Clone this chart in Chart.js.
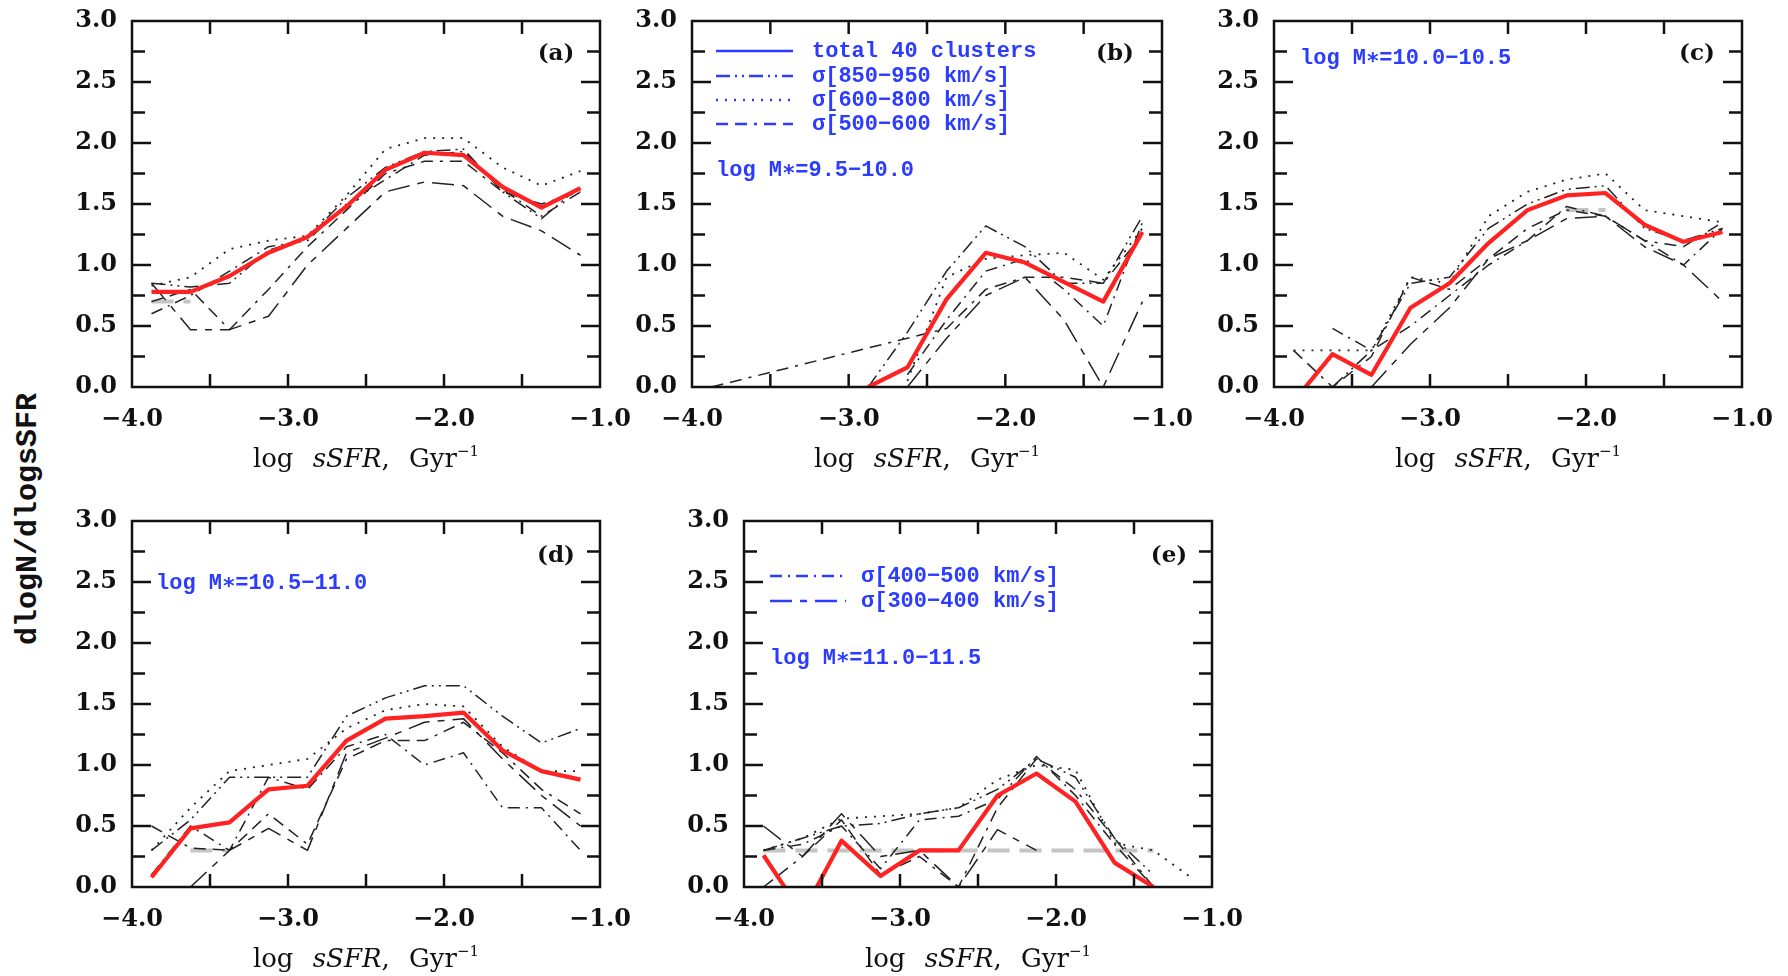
<!DOCTYPE html>
<html><head><meta charset="utf-8">
<script src="https://cdn.jsdelivr.net/npm/chart.js@4.4.1/dist/chart.umd.min.js"></script>
<style>
html,body{margin:0;padding:0;background:#fff;width:1788px;height:976px;overflow:hidden;position:relative;}
canvas{position:absolute;}
.t{position:absolute;white-space:pre;}
.xt{font-family:'DejaVu Serif',serif;font-size:26px;color:#111;transform:translate(-50%,-50%);word-spacing:11px;}
.xt sup{font-size:15px;vertical-align:11px;line-height:0;}
.blue{font-family:'Liberation Mono',monospace;font-weight:bold;font-size:22px;color:#2b3cff;transform:translateY(-50%);}
.pl{font-family:'DejaVu Serif',serif;font-weight:bold;font-size:23px;color:#111;transform:translate(-50%,-50%);}
.yt{font-family:'Liberation Mono',monospace;font-weight:bold;font-size:30px;color:#111;transform:translate(-50%,-50%) rotate(-90deg);}
</style></head><body>
<script>
// ---------- data ----------
const xBins = [-3.875,-3.625,-3.375,-3.125,-2.875,-2.625,-2.375,-2.125,-1.875,-1.625,-1.375,-1.125];
const xTickValues = [-4,-3,-2,-1];
const yTickValues = [0,0.5,1,1.5,2,2.5,3];
const xMinorTicks = [-3.5,-3,-2.5,-2,-1.5];
const yMinorTicks = [0.25,0.5,0.75,1,1.25,1.5,1.75,2,2.25,2.5,2.75];

// (a)
const totalA = [0.78,0.78,0.91,1.10,1.23,1.48,1.78,1.92,1.90,1.64,1.47,1.63];
const s850A  = [0.85,0.82,0.85,1.12,1.22,1.55,1.80,1.93,1.95,1.60,1.38,1.65];
const s600A  = [0.83,0.90,1.13,1.20,1.24,1.57,1.95,2.04,2.04,1.80,1.65,1.77];
const s500A  = [0.70,0.80,0.47,0.80,1.15,1.45,1.75,1.85,1.85,1.60,1.50,1.60];
const s400A  = [0.60,0.75,0.95,1.15,1.20,1.50,1.70,1.90,1.93,1.62,1.40,1.60];
const s300A  = [0.85,0.47,0.47,0.58,1.00,1.30,1.60,1.68,1.65,1.40,1.28,1.08];
const greyA  = [0.70,0.70,null,null,null,null,null,null,null,null,null,null];
// (b)
const totalB = [null,null,null,null,0.00,0.16,0.72,1.10,1.02,0.86,0.70,1.27];
const s850B  = [null,null,null,null,0.00,0.45,0.95,1.32,1.15,0.85,0.85,1.40];
const s600B  = [null,null,null,null,null,0.05,0.90,1.05,1.08,1.10,0.88,1.30];
const s500B  = [0.00,null,null,null,0.32,0.40,0.48,0.80,0.90,0.90,0.85,1.25];
const s400B  = [null,null,null,null,null,0.10,0.55,0.95,1.05,0.80,0.50,1.35];
const s300B  = [null,null,null,null,null,0.00,0.40,0.75,0.90,0.55,0.00,0.70];
// (c)
const totalC = [-0.12,0.27,0.10,0.65,0.85,1.18,1.45,1.57,1.59,1.33,1.19,1.27];
const s850C  = [null,0.00,0.30,0.85,0.90,1.30,1.50,1.62,1.65,1.30,1.20,1.30];
const s600C  = [0.30,0.30,0.30,0.90,0.85,1.40,1.60,1.70,1.75,1.45,1.40,1.35];
const s500C  = [0.30,0.00,0.25,0.90,0.80,1.05,1.30,1.45,1.40,1.20,1.15,1.35];
const s400C  = [null,0.48,0.30,0.50,0.75,1.00,1.20,1.48,1.40,1.20,1.00,1.30];
const s300C  = [null,null,0.00,0.35,0.65,1.05,1.20,1.38,1.40,1.15,1.00,0.70];
const greyC  = [null,null,null,null,null,null,null,1.45,1.45,null,null,null];
// (d)
const totalD = [0.08,0.48,0.53,0.80,0.83,1.20,1.38,1.40,1.43,1.12,0.95,0.88];
const s850D  = [0.30,0.55,0.90,0.90,0.90,1.40,1.55,1.65,1.65,1.40,1.18,1.30];
const s600D  = [0.30,0.65,0.95,1.00,1.05,1.30,1.45,1.50,1.48,1.15,0.95,0.95];
const s500D  = [0.50,0.32,0.30,0.60,0.35,1.05,1.20,1.20,1.35,1.10,0.80,0.60];
const s400D  = [0.10,0.50,0.30,0.90,0.80,1.15,1.25,1.00,1.10,0.65,0.65,0.30];
const s300D  = [null,0.00,0.30,0.48,0.30,1.10,1.22,1.35,1.38,1.05,0.75,0.50];
const greyD  = [null,0.30,0.30,null,null,null,null,null,null,null,null,null];
// (e)
const totalE = [0.26,-0.22,0.38,0.09,0.30,0.30,0.75,0.93,0.70,0.20,0.00,null];
const s850E  = [0.30,0.40,0.50,0.52,0.60,0.65,0.80,1.05,0.90,0.40,0.10,null];
const s600E  = [0.30,0.40,0.56,0.58,0.60,0.65,0.88,1.00,0.96,0.36,0.30,0.07];
const s500E  = [0.00,0.25,0.55,0.10,0.25,0.00,0.65,1.05,0.80,0.40,0.00,null];
const s400E  = [0.30,0.35,0.50,0.15,0.55,0.58,0.72,1.07,0.75,0.35,0.00,null];
const s300E  = [0.50,0.25,0.60,0.25,0.30,0.00,0.47,0.30,null,null,null,null];
const greyE  = [0.30,0.30,0.30,0.30,0.30,0.30,0.30,0.30,0.30,0.30,0.30,null];

// ---------- styles / layout ----------
const BLUE = '#2b3cff';
const styles = {
  total:{color:'#ff2222', width:4.2, dash:[]},
  s850: {color:'#222', width:1.5, dash:[14,5,2,5,2,5]},
  s600: {color:'#222', width:1.8, dash:[2,7]},
  s500: {color:'#222', width:1.5, dash:[12,7,12,7,3,7]},
  s400: {color:'#222', width:1.5, dash:[12,6,2,6]},
  s300: {color:'#222', width:1.5, dash:[22,8,7,8]},
  grey: {color:'#c4c4c4', width:4, dash:[22,10]}
};
const YAX=80, PADT=45, PADR=70, XAX=70;

const framePlugin = {
  id:'frame',
  afterDatasetsDraw(chart, args, opts){
    const {ctx, chartArea:a, scales:{x,y}} = chart;
    const line=(x1,y1,x2,y2)=>{ctx.beginPath();ctx.moveTo(x1,y1);ctx.lineTo(x2,y2);ctx.stroke();};
    ctx.save();
    ctx.strokeStyle='#111'; ctx.setLineDash([]); ctx.lineWidth=2.5;
    ctx.strokeRect(a.left,a.top,a.right-a.left,a.bottom-a.top);
    xMinorTicks.forEach(v=>{const px=x.getPixelForValue(v); line(px,a.bottom,px,a.bottom-13); line(px,a.top,px,a.top+13);});
    yMinorTicks.forEach(v=>{const py=y.getPixelForValue(v); const L=(Math.abs(v*2-Math.round(v*2))<1e-6)?19:13;
      line(a.left,py,a.left+L,py); line(a.right,py,a.right-L,py);});
    (opts.legend||[]).forEach(it=>{
      const st=styles[it.key];
      ctx.strokeStyle=BLUE; ctx.lineWidth=2.5; ctx.setLineDash(st.dash);
      line(it.x0-opts.ox, it.y-opts.oy, it.x1-opts.ox, it.y-opts.oy);
    });
    ctx.restore();
  }
};

function addText(cls, html, x, y){
  const d=document.createElement('div'); d.className='t '+cls; d.innerHTML=html;
  d.style.left=x+'px'; d.style.top=y+'px'; document.body.appendChild(d);
}

function makePanel(left, top, w, h, series, legend){
  const c=document.createElement('canvas');
  const W=YAX+w+PADR, H=PADT+h+XAX;
  c.width=W; c.height=H; c.style.left=(left-YAX)+'px'; c.style.top=(top-PADT)+'px';
  c.style.width=W+'px'; c.style.height=H+'px';
  document.body.appendChild(c);
  const datasets = series.map(s=>{
    const st=styles[s.key];
    return {data:xBins.map((xv,i)=>({x:xv,y:s.values[i]})), borderColor:st.color, borderWidth:st.width,
      borderDash:st.dash, pointRadius:0, tension:0, fill:false, spanGaps:true,
      borderCapStyle:'butt', borderJoinStyle:'round'};
  });
  const tickFont={family:'DejaVu Serif', size:24, weight:'bold'};
  new Chart(c,{type:'line',data:{datasets},
    options:{responsive:false, animation:false, devicePixelRatio:1,
      layout:{padding:{left:0,top:PADT,right:PADR,bottom:0}},
      plugins:{legend:{display:false},tooltip:{enabled:false},
        frame:{legend:legend||[], ox:left-YAX, oy:top-PADT}},
      scales:{
        x:{type:'linear',min:-4,max:-1,
          grid:{display:false,drawTicks:false}, border:{display:false},
          afterBuildTicks:s=>{s.ticks=xTickValues.map(v=>({value:v}));},
          afterFit:s=>{s.height=XAX;},
          ticks:{padding:18,color:'#111',font:tickFont,maxRotation:0,autoSkip:false,
            callback:v=>(v<0?'\u2212':'')+Math.abs(v).toFixed(1)}},
        y:{type:'linear',min:0,max:3,
          grid:{display:false,drawTicks:false}, border:{display:false},
          afterBuildTicks:s=>{s.ticks=yTickValues.map(v=>({value:v}));},
          afterFit:s=>{s.width=YAX;},
          ticks:{padding:15,color:'#111',font:tickFont,autoSkip:false,callback:v=>v.toFixed(1)}}
      }},
    plugins:[framePlugin]});
  addText('xt','log <i>sSFR</i>, Gyr<sup>\u22121</sup>', left+w/2, top+h+71);
}

const PH=366;
makePanel(132,21,468,PH,[
  {key:'total',values:totalA},{key:'s850',values:s850A},{key:'s600',values:s600A},
  {key:'s500',values:s500A},{key:'s400',values:s400A},{key:'s300',values:s300A},{key:'grey',values:greyA}]);
makePanel(692,21,470,PH,[
  {key:'total',values:totalB},{key:'s850',values:s850B},{key:'s600',values:s600B},
  {key:'s500',values:s500B},{key:'s400',values:s400B},{key:'s300',values:s300B}],
  [{key:'total',x0:716,x1:793,y:51},{key:'s850',x0:716,x1:793,y:76},
   {key:'s600',x0:716,x1:793,y:100},{key:'s500',x0:716,x1:793,y:124}]);
makePanel(1274,21,468,PH,[
  {key:'total',values:totalC},{key:'s850',values:s850C},{key:'s600',values:s600C},
  {key:'s500',values:s500C},{key:'s400',values:s400C},{key:'s300',values:s300C},{key:'grey',values:greyC}]);
makePanel(132,521,468,PH,[
  {key:'total',values:totalD},{key:'s850',values:s850D},{key:'s600',values:s600D},
  {key:'s500',values:s500D},{key:'s400',values:s400D},{key:'s300',values:s300D},{key:'grey',values:greyD}]);
makePanel(744,521,468,PH,[
  {key:'total',values:totalE},{key:'s850',values:s850E},{key:'s600',values:s600E},
  {key:'s500',values:s500E},{key:'s400',values:s400E},{key:'s300',values:s300E},{key:'grey',values:greyE}],
  [{key:'s400',x0:770,x1:846,y:576},{key:'s300',x0:770,x1:846,y:601}]);

// panel letters
addText('pl','(a)',556,51); addText('pl','(b)',1115,51); addText('pl','(c)',1697,51);
addText('pl','(d)',556,553); addText('pl','(e)',1169,553);
// blue labels
addText('blue','total 40 clusters',812,51);
addText('blue','\u03c3[850\u2212950 km/s]',812,76);
addText('blue','\u03c3[600\u2212800 km/s]',812,100);
addText('blue','\u03c3[500\u2212600 km/s]',812,124);
addText('blue','log M\u2217=9.5\u221210.0',716,169);
addText('blue','log M\u2217=10.0\u221210.5',1300,57);
addText('blue','log M\u2217=10.5\u221211.0',156,582);
addText('blue','\u03c3[400\u2212500 km/s]',861,576);
addText('blue','\u03c3[300\u2212400 km/s]',861,601);
addText('blue','log M\u2217=11.0\u221211.5',770,657);
// y title
addText('yt','dlogN/dlogsSFR',28,519);
</script></body></html>
